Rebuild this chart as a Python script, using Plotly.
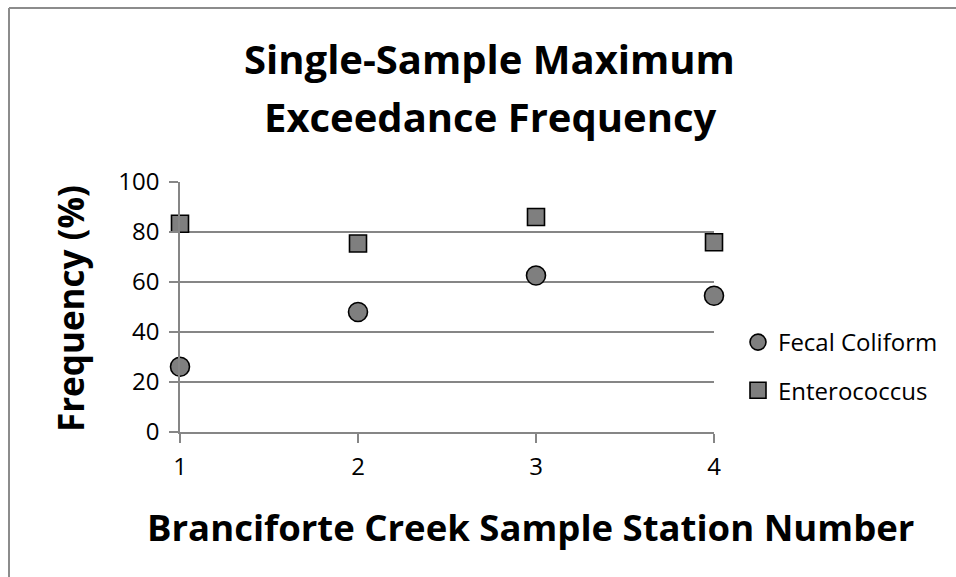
import plotly.graph_objects as go

# Station numbers along Branciforte Creek
stations = [1, 2, 3, 4]

# Percent of samples exceeding the single-sample maximum
fecal_coliform = [26.1, 48.0, 62.6, 54.5]
enterococcus = [83.3, 75.4, 86.0, 75.9]

y_ticks = [0, 20, 40, 60, 80, 100]
x_ticks = [1, 2, 3, 4]

title_lines = ["Single-Sample Maximum", "Exceedance Frequency"]
x_title = "Branciforte Creek Sample Station Number"
y_title = "Frequency (%)"

W, H = 956, 577
L, T, B = 180, 182, 145
PLOT_RIGHT = 714           # pixel where station 4 sits
PW, PH = W - L, H - T - B  # paper spans to the right edge

grid = "#868686"
fill = "#7f7f7f"
FONT = "Open Sans, Liberation Sans, sans-serif"


def px_x(p):
    """Horizontal pixel -> paper fraction."""
    return (p - L) / PW


def px_y(p):
    """Vertical pixel (from top) -> paper fraction."""
    return 1 - (p - T) / PH


fig = go.Figure()
fig.add_trace(go.Scatter(
    x=stations, y=fecal_coliform, mode="markers", name="Fecal Coliform",
    legendgroup="fc",
    marker=dict(symbol="circle", size=19, color=fill,
                line=dict(color="black", width=1.6)),
    cliponaxis=False,
))
fig.add_trace(go.Scatter(
    x=stations, y=enterococcus, mode="markers", name="Enterococcus",
    legendgroup="en",
    marker=dict(symbol="square", size=17, color=fill,
                line=dict(color="black", width=1.6)),
    cliponaxis=False,
))

annotations = [
    dict(text="<b>%s</b>" % title_lines[0], x=px_x(489), y=px_y(58),
         xanchor="center", yanchor="middle", font=dict(size=40)),
    dict(text="<b>%s</b>" % title_lines[1], x=px_x(490), y=px_y(116),
         xanchor="center", yanchor="middle", font=dict(size=40)),
    dict(text="<b>%s</b>" % x_title, x=px_x(530), y=px_y(527),
         xanchor="center", yanchor="middle", font=dict(size=36.5)),
    dict(text="<b>%s</b>" % y_title, x=px_x(70), y=px_y(309),
         xanchor="center", yanchor="middle", textangle=-90,
         font=dict(size=35)),
]
for a in annotations:
    a.update(xref="paper", yref="paper", showarrow=False)

# chart-area border: only the left and top edges fall inside the frame
border = dict(color="#8c8c8c", width=2)
shapes = [
    dict(type="line", xref="paper", yref="paper",
         x0=px_x(9), x1=px_x(9), y0=px_y(8), y1=px_y(H + 5), line=border),
    dict(type="line", xref="paper", yref="paper",
         x0=px_x(9), x1=px_x(W + 5), y0=px_y(8), y1=px_y(8), line=border),
]

fig.update_layout(
    width=W, height=H,
    margin=dict(l=L, r=0, t=T, b=B, autoexpand=False),
    paper_bgcolor="white", plot_bgcolor="white",
    font=dict(family=FONT, color="black", size=24),
    showlegend=True,
    legend=dict(
        x=px_x(738), xanchor="left",
        y=px_y(320), yanchor="top",
        font=dict(size=24), tracegroupgap=14,
        bgcolor="rgba(0,0,0,0)", itemwidth=30,
    ),
    shapes=shapes,
    annotations=annotations,
)

fig.update_xaxes(
    domain=[0, px_x(PLOT_RIGHT)],
    range=[1, 4], tickvals=x_ticks, ticktext=[str(v) for v in x_ticks],
    showgrid=False, zeroline=False,
    showline=True, linecolor=grid, linewidth=1.5,
    ticks="outside", ticklen=9, tickcolor=grid, tickwidth=1.5,
    tickfont=dict(size=24), ticklabelstandoff=3, automargin=False,
)
fig.update_yaxes(
    range=[0, 100], tickvals=y_ticks,
    showgrid=True, gridcolor=grid, gridwidth=1.5, zeroline=False,
    showline=True, linecolor=grid, linewidth=1.5,
    ticks="outside", ticklen=9, tickcolor=grid, tickwidth=1.5,
    tickfont=dict(size=24), ticklabelstandoff=5, automargin=False,
)

fig.write_html("out.html")
